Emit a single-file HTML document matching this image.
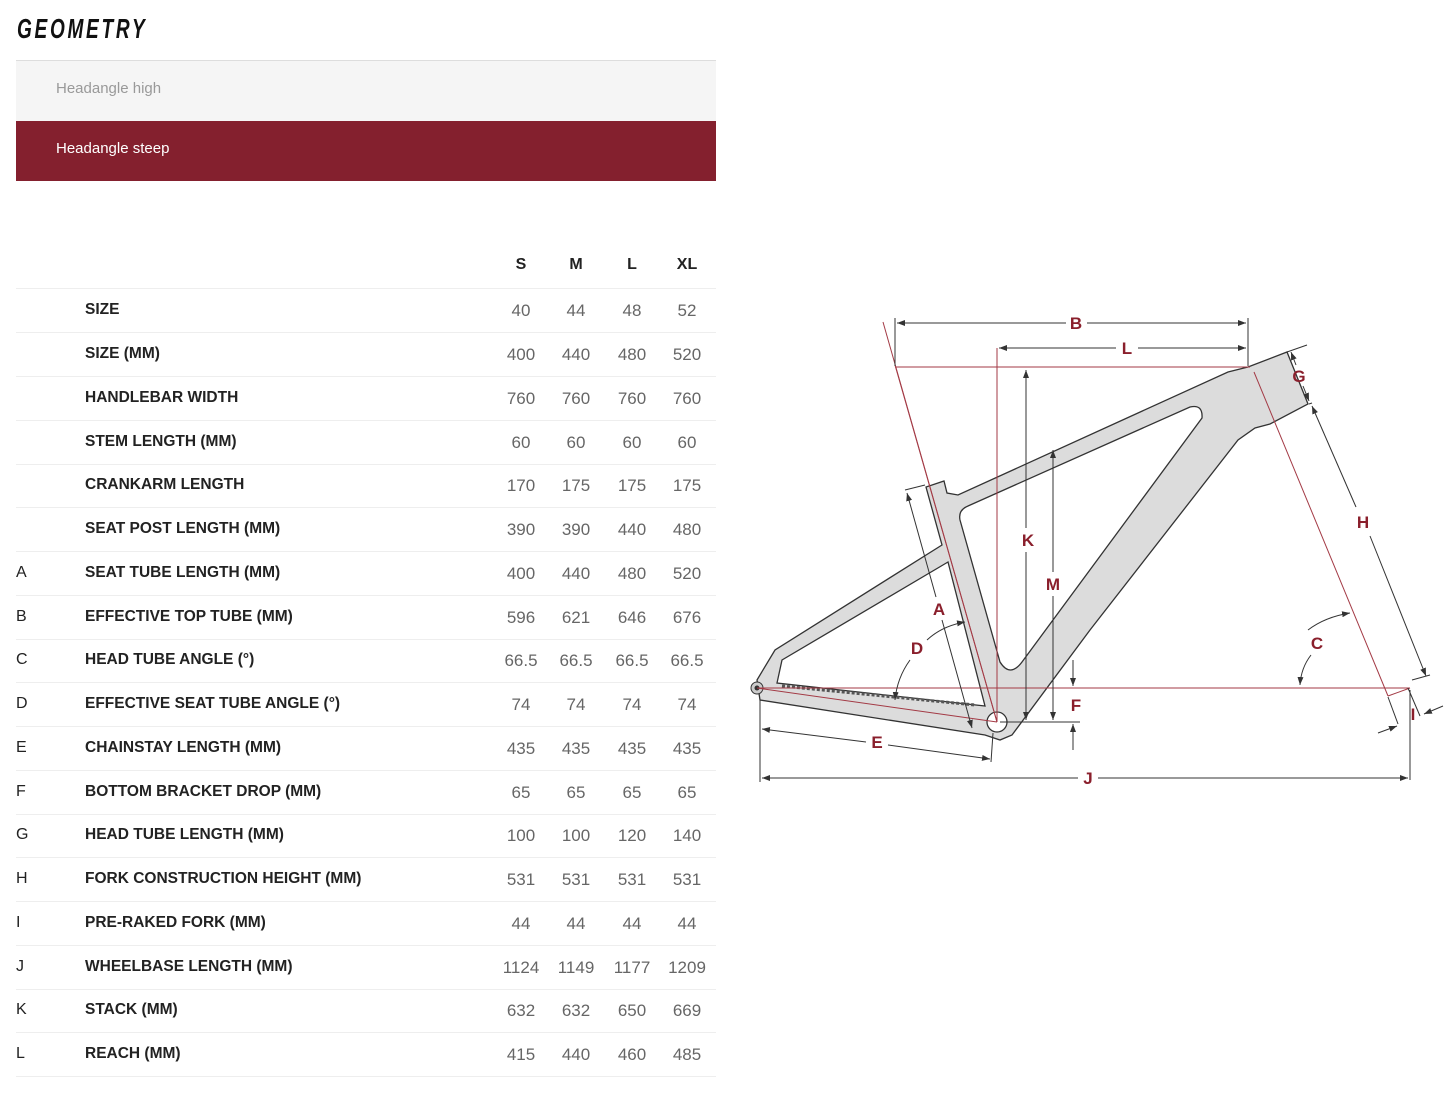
<!DOCTYPE html>
<html><head><meta charset="utf-8"><style>
body{margin:0;width:1445px;height:1118px;background:#fff;font-family:"Liberation Sans",sans-serif;position:relative;overflow:hidden}
.t{position:absolute;left:17px;top:13px;font-family:"Liberation Sans Narrow","Liberation Sans",sans-serif;font-style:italic;font-weight:bold;font-size:28px;letter-spacing:4px;color:#111;transform:scaleX(0.68);transform-origin:left}
.tab{position:absolute;left:16px;width:700px;height:60px;font-size:15px;line-height:56px;padding-left:40px;box-sizing:border-box}
.row{position:absolute;left:16px;width:700px;height:44px;border-bottom:1px solid #eee;font-size:16px;color:#222}
.row span{position:absolute;top:13px}
.l{left:0}.n{left:69px;font-weight:bold;color:#222;font-size:15.5px}
.v{width:56px;text-align:center;color:#666;font-family:"Liberation Sans Narrow","Liberation Sans",sans-serif;font-size:17px}
.c1{left:477px}.c2{left:532px}.c3{left:588px}.c4{left:643px}
.h span.v{color:#222;font-weight:bold;font-size:16px;top:12px}
</style></head><body>
<div class="t">GEOMETRY</div>
<div style="position:absolute;left:16px;top:60px;width:700px;height:1px;background:#ddd"></div>
<div class="tab" style="top:61px;background:#f5f5f5;color:#999">Headangle high</div>
<div class="tab" style="top:121px;background:#84202e;color:#fff">Headangle steep</div>

<div class="row h" style="top:244px;"><span class="v c1">S</span><span class="v c2">M</span><span class="v c3">L</span><span class="v c4">XL</span></div>
<div class="row" style="top:288px"><span class="l"></span><span class="n">SIZE</span><span class="v c1">40</span><span class="v c2">44</span><span class="v c3">48</span><span class="v c4">52</span></div>
<div class="row" style="top:332px"><span class="l"></span><span class="n">SIZE (MM)</span><span class="v c1">400</span><span class="v c2">440</span><span class="v c3">480</span><span class="v c4">520</span></div>
<div class="row" style="top:376px"><span class="l"></span><span class="n">HANDLEBAR WIDTH</span><span class="v c1">760</span><span class="v c2">760</span><span class="v c3">760</span><span class="v c4">760</span></div>
<div class="row" style="top:420px"><span class="l"></span><span class="n">STEM LENGTH (MM)</span><span class="v c1">60</span><span class="v c2">60</span><span class="v c3">60</span><span class="v c4">60</span></div>
<div class="row" style="top:463px"><span class="l"></span><span class="n">CRANKARM LENGTH</span><span class="v c1">170</span><span class="v c2">175</span><span class="v c3">175</span><span class="v c4">175</span></div>
<div class="row" style="top:507px"><span class="l"></span><span class="n">SEAT POST LENGTH (MM)</span><span class="v c1">390</span><span class="v c2">390</span><span class="v c3">440</span><span class="v c4">480</span></div>
<div class="row" style="top:551px"><span class="l">A</span><span class="n">SEAT TUBE LENGTH (MM)</span><span class="v c1">400</span><span class="v c2">440</span><span class="v c3">480</span><span class="v c4">520</span></div>
<div class="row" style="top:595px"><span class="l">B</span><span class="n">EFFECTIVE TOP TUBE (MM)</span><span class="v c1">596</span><span class="v c2">621</span><span class="v c3">646</span><span class="v c4">676</span></div>
<div class="row" style="top:638px"><span class="l">C</span><span class="n">HEAD TUBE ANGLE (°)</span><span class="v c1">66.5</span><span class="v c2">66.5</span><span class="v c3">66.5</span><span class="v c4">66.5</span></div>
<div class="row" style="top:682px"><span class="l">D</span><span class="n">EFFECTIVE SEAT TUBE ANGLE (°)</span><span class="v c1">74</span><span class="v c2">74</span><span class="v c3">74</span><span class="v c4">74</span></div>
<div class="row" style="top:726px"><span class="l">E</span><span class="n">CHAINSTAY LENGTH (MM)</span><span class="v c1">435</span><span class="v c2">435</span><span class="v c3">435</span><span class="v c4">435</span></div>
<div class="row" style="top:770px"><span class="l">F</span><span class="n">BOTTOM BRACKET DROP (MM)</span><span class="v c1">65</span><span class="v c2">65</span><span class="v c3">65</span><span class="v c4">65</span></div>
<div class="row" style="top:813px"><span class="l">G</span><span class="n">HEAD TUBE LENGTH (MM)</span><span class="v c1">100</span><span class="v c2">100</span><span class="v c3">120</span><span class="v c4">140</span></div>
<div class="row" style="top:857px"><span class="l">H</span><span class="n">FORK CONSTRUCTION HEIGHT (MM)</span><span class="v c1">531</span><span class="v c2">531</span><span class="v c3">531</span><span class="v c4">531</span></div>
<div class="row" style="top:901px"><span class="l">I</span><span class="n">PRE-RAKED FORK (MM)</span><span class="v c1">44</span><span class="v c2">44</span><span class="v c3">44</span><span class="v c4">44</span></div>
<div class="row" style="top:945px"><span class="l">J</span><span class="n">WHEELBASE LENGTH (MM)</span><span class="v c1">1124</span><span class="v c2">1149</span><span class="v c3">1177</span><span class="v c4">1209</span></div>
<div class="row" style="top:988px"><span class="l">K</span><span class="n">STACK (MM)</span><span class="v c1">632</span><span class="v c2">632</span><span class="v c3">650</span><span class="v c4">669</span></div>
<div class="row" style="top:1032px"><span class="l">L</span><span class="n">REACH (MM)</span><span class="v c1">415</span><span class="v c2">440</span><span class="v c3">460</span><span class="v c4">485</span></div>

<svg style="position:absolute;left:0;top:0" width="1445" height="1118" viewBox="0 0 1445 1118">
<defs><marker id="a" markerWidth="8" markerHeight="6" refX="8" refY="3" orient="auto-start-reverse" markerUnits="userSpaceOnUse"><path d="M0,0 L8,3 L0,6 Z" fill="#333"/></marker></defs>
<path fill-rule="evenodd" fill="#dcdcdc" stroke="#333" stroke-width="1.3" d="M757,680 L775,650 L942,545 L926,487 L944,481 L947,493 L958,495 L1228,372 L1248,367 L1287,352 L1308,404 L1270,424 L1255,428 L1238,440 L1090,630 L1012,735 L1000,740 L985,735 L760,700 Z
M1190,407 Q1203,404 1202,418 L1022,662 Q1010,678 1000,662 L960,520 Q958,510 968,506 Z
M948,562 L782,660 L777,683 L985,706 Z"/>
<circle cx="757" cy="688" r="6" fill="#ccc" stroke="#333"/><circle cx="757" cy="688" r="2.5" fill="#333"/>
<circle cx="997" cy="722" r="10" fill="#fff" stroke="#333" stroke-width="1.3"/>
<path d="M782,686 L975,705" stroke="#555" stroke-width="3" stroke-dasharray="3,2"/>
<g stroke="#a33a45" stroke-width="1" fill="none">
<line x1="895" y1="367" x2="1250" y2="367"/>
<line x1="757" y1="688" x2="1410" y2="688"/>
<line x1="883" y1="322" x2="997" y2="722"/>
<line x1="895" y1="365" x2="997" y2="722"/>
<line x1="997" y1="348" x2="997" y2="722"/>
<line x1="1254" y1="372" x2="1388" y2="696"/>
<line x1="1388" y1="696" x2="1410" y2="688"/>
<line x1="757" y1="688" x2="997" y2="722"/>
</g>
<g stroke="#333" stroke-width="1" fill="none">
<line x1="895" y1="318" x2="895" y2="366"/><line x1="1248" y1="318" x2="1248" y2="366"/>
<line x1="897" y1="323" x2="1066" y2="323" marker-start="url(#a)"/><line x1="1087" y1="323" x2="1246" y2="323" marker-end="url(#a)"/>
<line x1="999" y1="348" x2="1116" y2="348" marker-start="url(#a)"/><line x1="1138" y1="348" x2="1246" y2="348" marker-end="url(#a)"/>
<line x1="1026" y1="370" x2="1026" y2="528" marker-start="url(#a)"/><line x1="1026" y1="552" x2="1026" y2="720" marker-end="url(#a)"/>
<line x1="1053" y1="450" x2="1053" y2="572" marker-start="url(#a)"/><line x1="1053" y1="596" x2="1053" y2="720" marker-end="url(#a)"/>
<line x1="1000" y1="722" x2="1080" y2="722"/>
<line x1="1073" y1="660" x2="1073" y2="686" marker-end="url(#a)"/><line x1="1073" y1="750" x2="1073" y2="724" marker-end="url(#a)"/>
<line x1="1287" y1="352" x2="1307" y2="345"/><line x1="1309" y1="404" x2="1312" y2="403"/>
<line x1="1291" y1="352" x2="1296" y2="365" marker-start="url(#a)"/><line x1="1303" y1="386" x2="1309" y2="401" marker-end="url(#a)"/>
<line x1="1312" y1="406" x2="1356" y2="507" marker-start="url(#a)"/><line x1="1370" y1="536" x2="1426" y2="676" marker-end="url(#a)"/>
<line x1="1412" y1="680" x2="1430" y2="675"/>
<line x1="1388" y1="697" x2="1398" y2="724"/><line x1="1408" y1="688" x2="1420" y2="716"/>
<line x1="1378" y1="733" x2="1397" y2="726" marker-end="url(#a)"/><line x1="1443" y1="706" x2="1424" y2="714" marker-end="url(#a)"/>
<line x1="1410" y1="690" x2="1410" y2="780"/><line x1="760" y1="700" x2="760" y2="782"/>
<line x1="762" y1="778" x2="1078" y2="778" marker-start="url(#a)"/><line x1="1098" y1="778" x2="1408" y2="778" marker-end="url(#a)"/>
<line x1="905" y1="490" x2="925" y2="485"/>
<line x1="907" y1="493" x2="936" y2="597" marker-start="url(#a)"/><line x1="942" y1="620" x2="972" y2="728" marker-end="url(#a)"/>
<line x1="762" y1="729" x2="866" y2="742" marker-start="url(#a)"/><line x1="888" y1="745" x2="990" y2="759" marker-end="url(#a)"/>
<line x1="993" y1="733" x2="991" y2="762"/>
<path d="M927,640 Q942,626 965,622" marker-end="url(#a)"/>
<path d="M910,660 Q897,678 895,700" marker-end="url(#a)"/>
<path d="M1308,630 Q1325,617 1350,613" marker-end="url(#a)"/>
<path d="M1311,655 Q1301,668 1300,685" marker-end="url(#a)"/>
</g>
<g fill="#8a1f2c" font-family="Liberation Sans,sans-serif" font-weight="bold" font-size="17" text-anchor="middle">
<text x="1076" y="329">B</text><text x="1127" y="354">L</text><text x="1028" y="546">K</text><text x="1053" y="590">M</text>
<text x="1076" y="711">F</text><text x="1299" y="382">G</text><text x="1363" y="528">H</text><text x="1317" y="649">C</text>
<text x="1413" y="720">I</text><text x="1088" y="784">J</text><text x="939" y="615">A</text><text x="917" y="654">D</text><text x="877" y="748">E</text>
</g>
</svg>
</body></html>
